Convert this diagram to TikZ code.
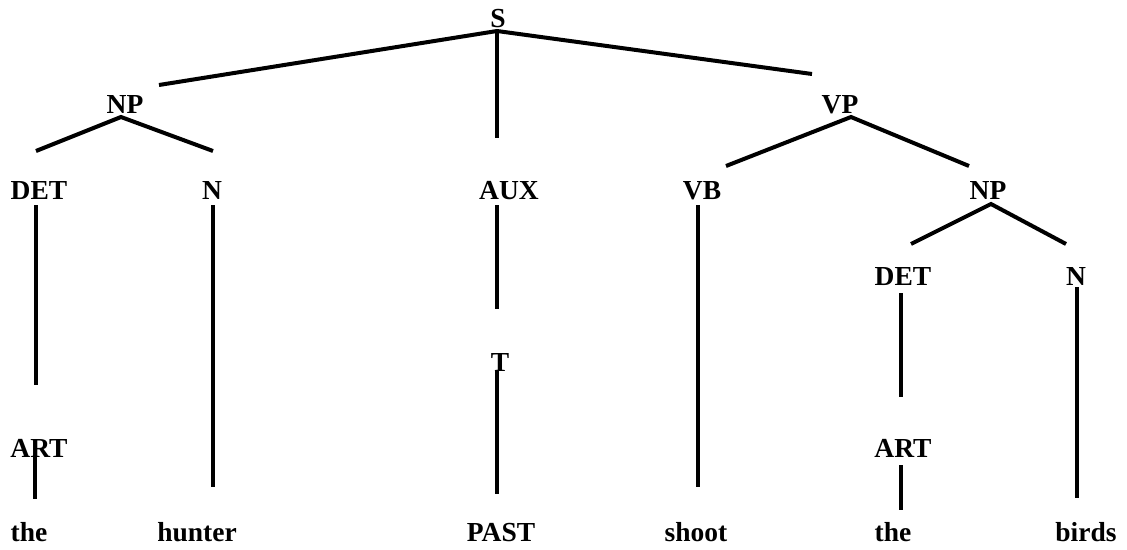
\documentclass[tikz,border=0pt]{standalone}
\usepackage{fontspec}
\setmainfont{Liberation Serif}
\tikzset{
  cat/.style={inner sep=0pt, anchor=base, font=\fontsize{27.5}{33}\selectfont\bfseries},
  word/.style={cat},
  branch/.style={line width=4pt, black},
}

\begin{document}
\begin{tikzpicture}[x=1pt, y=-1pt]
    \useasboundingbox (0,0) rectangle (1127,549);
    % categories
    \node[cat] (S)    at (498,27)  {S};
    \node[cat] (NPa)  at (125,113) {NP};
    \node[cat] (VP)   at (840,113) {VP};
    \node[cat] (DETa) at (39,199)  {DET};
    \node[cat] (Na)   at (212,199) {N};
    \node[cat] (AUX)  at (509,199) {AUX};
    \node[cat] (VB)   at (702,199) {VB};
    \node[cat] (NPb)  at (988,199) {NP};
    \node[cat] (DETb) at (903,285) {DET};
    \node[cat] (Nb)   at (1076,285){N};
    \node[cat] (T)    at (500,371) {T};
    \node[cat] (ARTa) at (39,457)  {ART};
    \node[cat] (ARTb) at (903,457) {ART};
    % words
    \node[word] (the1)   at (29,541)   {the};
    \node[word] (hunter) at (197,541)  {hunter};
    \node[word] (past)   at (501,541)  {PAST};
    \node[word] (shoot)  at (696,541)  {shoot};
    \node[word] (the2)   at (893,541)  {the};
    \node[word] (birds)  at (1086,541) {birds};
    % branch points
    \coordinate (S-j)    at (497,31);
    \coordinate (S-np)   at (159,85);
    \coordinate (S-aux)  at (497,138);
    \coordinate (S-vp)   at (812,74);
    \coordinate (NPa-j)  at (121,117);
    \coordinate (NPa-l)  at (36,151);
    \coordinate (NPa-r)  at (213,151);
    \coordinate (VP-j)   at (851,117);
    \coordinate (VP-l)   at (726,166);
    \coordinate (VP-r)   at (969,166);
    \coordinate (NPb-j)  at (991,204);
    \coordinate (NPb-l)  at (911,244);
    \coordinate (NPb-r)  at (1066,244);
    % vertical stems
    \coordinate (DETa-t) at (36,205);   \coordinate (DETa-b) at (36,385);
    \coordinate (Na-t)   at (213,205);  \coordinate (Na-b)   at (213,487);
    \coordinate (AUX-t)  at (497,205);  \coordinate (AUX-b)  at (497,309);
    \coordinate (T-t)    at (497,371);  \coordinate (T-b)    at (497,494);
    \coordinate (VB-t)   at (698,205);  \coordinate (VB-b)   at (698,487);
    \coordinate (DETb-t) at (901,293);  \coordinate (DETb-b) at (901,397);
    \coordinate (Nb-t)   at (1077,287); \coordinate (Nb-b)   at (1077,498);
    \coordinate (ARTa-t) at (35,455);   \coordinate (ARTa-b) at (35,499);
    \coordinate (ARTb-t) at (901,465);  \coordinate (ARTb-b) at (901,510);
    \draw[branch] (S-np) -- (S-j) -- (S-vp);
    \draw[branch] (S-j) -- (S-aux);
    \draw[branch] (NPa-l) -- (NPa-j) -- (NPa-r);
    \draw[branch] (VP-l) -- (VP-j) -- (VP-r);
    \draw[branch] (NPb-l) -- (NPb-j) -- (NPb-r);
    \foreach \n in {DETa,Na,AUX,T,VB,DETb,Nb,ARTa,ARTb}
        \draw[branch] (\n-t) -- (\n-b);
\end{tikzpicture}
\end{document}
